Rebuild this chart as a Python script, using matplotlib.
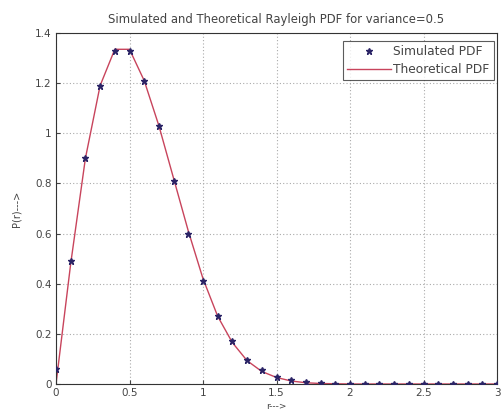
import matplotlib
matplotlib.use("Agg")
import matplotlib.pyplot as plt

r_values = [0.0, 0.1, 0.2, 0.3, 0.4, 0.5, 0.6, 0.7, 0.8, 0.9, 1.0, 1.1, 1.2, 1.3, 1.4,
            1.5, 1.6, 1.7, 1.8, 1.9, 2.0, 2.1, 2.2, 2.3, 2.4, 2.5, 2.6, 2.7, 2.8, 2.9, 3.0]
simulated_pdf = [0.06, 0.49, 0.90, 1.19, 1.33, 1.33, 1.21, 1.03, 0.81, 0.60, 0.41, 0.27,
                 0.17, 0.096, 0.056, 0.028, 0.014, 0.006, 0.003, 0.001, 0.0, 0.0, 0.0, 0.0,
                 0.0, 0.0, 0.0, 0.0, 0.0, 0.0, 0.0]
theoretical_pdf = [0.0, 0.48, 0.90, 1.19, 1.335, 1.335, 1.21, 1.03, 0.82, 0.61, 0.42, 0.27,
                   0.165, 0.093, 0.05, 0.026, 0.012, 0.005, 0.002, 0.001, 0.0, 0.0, 0.0, 0.0,
                   0.0, 0.0, 0.0, 0.0, 0.0, 0.0, 0.0]
x_ticks = [0, 0.5, 1, 1.5, 2, 2.5, 3]
x_tick_labels = ["0", "0.5", "1", "1.5", "2", "2.5", "3"]
y_ticks = [0, 0.2, 0.4, 0.6, 0.8, 1.0, 1.2, 1.4]
y_tick_labels = ["0", "0.2", "0.4", "0.6", "0.8", "1", "1.2", "1.4"]

W, H = 501, 418
L, R, T, B = 56, 497, 33, 384
fig = plt.figure(figsize=(W / 100, H / 100), dpi=100)
ax = fig.add_axes([L / W, 1 - B / H, (R - L) / W, (B - T) / H])

ax.plot(r_values, simulated_pdf, linestyle="none", marker="*", markersize=5,
        color="#2b2466", label="Simulated PDF", zorder=3)
ax.plot(r_values, theoretical_pdf, color="#c8445c", linewidth=1.0,
        label="Theoretical PDF", zorder=2)

ax.set_xlim(0, 3)
ax.set_ylim(0, 1.4)
ax.set_xticks(x_ticks)
ax.set_xticklabels(x_tick_labels)
ax.set_yticks(y_ticks)
ax.set_yticklabels(y_tick_labels)
ax.tick_params(direction="in", labelsize=7.5, length=3, colors="#444444", pad=3)
ax.grid(True, linestyle=(0, (1, 2)), color="#aaaaaa", linewidth=0.8)
for s in ax.spines.values():
    s.set_color("#333333")
    s.set_linewidth(0.8)

ax.set_title("Simulated and Theoretical Rayleigh PDF for variance=0.5", fontsize=8.4,
             color="#444444", pad=7)
ax.set_xlabel("r--->", fontsize=6.5, color="#444444", labelpad=3)
ax.set_ylabel("P(r)--->", fontsize=7, color="#444444", labelpad=10)

leg = ax.legend(loc="upper right", bbox_to_anchor=((494 - L) / (R - L), 1 - 8 / (B - T)),
                fontsize=8.8, frameon=True, fancybox=False, edgecolor="#333333",
                handlelength=3.6, handletextpad=0.2, borderpad=0.35, labelspacing=0.4,
                borderaxespad=0.0)
leg.get_frame().set_linewidth(0.8)
for t in leg.get_texts():
    t.set_color("#444444")

fig.savefig("out.png", dpi=100)
